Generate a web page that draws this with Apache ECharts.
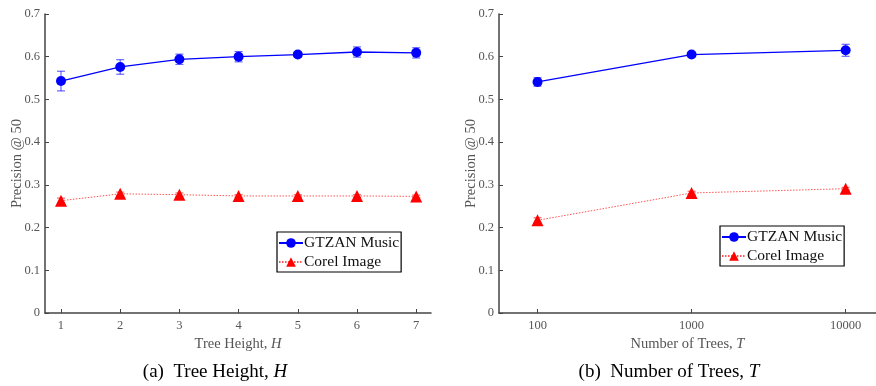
<!DOCTYPE html>
<html>
<head>
<meta charset="utf-8">
<script src="https://cdn.jsdelivr.net/npm/echarts@6/dist/echarts.min.js"></script>
<style>
  html, body { margin: 0; padding: 0; background: #fff; }
  #main { width: 876px; height: 386px; }
</style>
</head>
<body>
<div id="main"></div>
<script>
// panel (a): precision vs tree height
const heights = [1, 2, 3, 4, 5, 6, 7];
const gtzanByHeight = [0.543, 0.576, 0.594, 0.600, 0.605, 0.611, 0.609];
const gtzanByHeightErr = [0.023, 0.017, 0.012, 0.012, 0.006, 0.012, 0.012];
const corelByHeight = [0.263, 0.279, 0.277, 0.274, 0.274, 0.274, 0.273];
const corelByHeightErr = [0.006, 0.004, 0.004, 0.003, 0.003, 0.003, 0.003];

// panel (b): precision vs number of trees
const trees = [100, 1000, 10000];
const gtzanByTrees = [0.541, 0.605, 0.615];
const gtzanByTreesErr = [0.010, 0.005, 0.014];
const corelByTrees = [0.217, 0.281, 0.291];
const corelByTreesErr = [0.006, 0.004, 0.003];

const SERIF = '"Liberation Serif", "DejaVu Serif", serif';
const AXIS_COLOR = '#444';
const TEXT_COLOR = '#555';

const pairs = (xs, ys) => xs.map((x, i) => [x, ys[i]]);
const triples = (xs, ys, es) => xs.map((x, i) => [x, ys[i], es[i]]);

// vertical error bar with small caps
const errorBar = (color) => (params, api) => {
    const x = api.value(0), y = api.value(1), e = api.value(2);
    const top = api.coord([x, y + e]);
    const bot = api.coord([x, y - e]);
    const w = 4;
    const st = { stroke: color, lineWidth: 1.2 };
    return {
        type: 'group',
        children: [
            { type: 'line', shape: { x1: top[0], y1: top[1], x2: bot[0], y2: bot[1] }, style: st },
            { type: 'line', shape: { x1: top[0] - w, y1: top[1], x2: top[0] + w, y2: top[1] }, style: st },
            { type: 'line', shape: { x1: bot[0] - w, y1: bot[1], x2: bot[0] + w, y2: bot[1] }, style: st }
        ]
    };
};

const yAxisBase = (gridIndex) => ({
    type: 'value',
    gridIndex,
    min: 0,
    max: 0.7,
    interval: 0.1,
    name: 'Precision @ 50',
    nameLocation: 'middle',
    nameGap: 20,
    nameMoveOverlap: false,
    nameTextStyle: { fontFamily: SERIF, fontSize: 14.5, color: TEXT_COLOR },
    axisLine: { show: true, lineStyle: { color: AXIS_COLOR, width: 1.5 } },
    axisTick: { show: true, inside: true, length: 4, lineStyle: { color: AXIS_COLOR } },
    axisLabel: { fontFamily: SERIF, fontSize: 12.5, color: TEXT_COLOR, margin: 5 },
    splitLine: { show: false }
});

const xAxisCommon = {
    nameLocation: 'middle',
    nameGap: 20,
    axisLine: { show: true, onZero: false, lineStyle: { color: AXIS_COLOR, width: 1.5 } },
    splitLine: { show: false }
};

const nameStyle = {
    fontFamily: SERIF, fontSize: 14.5, color: TEXT_COLOR,
    rich: {
        n: { fontFamily: SERIF, fontSize: 14.5, color: TEXT_COLOR },
        i: { fontFamily: SERIF, fontSize: 14.5, color: TEXT_COLOR, fontStyle: 'italic' }
    }
};

const legendBase = {
    data: ['GTZAN Music', 'Corel Image'],
    orient: 'vertical',
    itemWidth: 24,
    itemHeight: 12,
    itemGap: 3,
    padding: [3, 2, 2, 1],
    borderColor: '#000',
    borderWidth: 1.2,
    backgroundColor: '#fff',
    selectedMode: false,
    textStyle: { fontFamily: SERIF, fontSize: 15.5, color: '#111', padding: [0, 0, 0, -4] }
};

const gtzanLine = (xi, data) => ({
    name: 'GTZAN Music',
    type: 'line',
    xAxisIndex: xi, yAxisIndex: xi,
    data,
    symbol: 'circle',
    symbolSize: 10,
    color: '#0000ff',
    lineStyle: { color: '#0000ff', width: 1.3 },
    itemStyle: { color: '#0000ff' },
    z: 5
});

const corelLine = (xi, data) => ({
    name: 'Corel Image',
    type: 'line',
    xAxisIndex: xi, yAxisIndex: xi,
    data,
    symbol: 'triangle',
    symbolSize: 12,
    color: '#ff0000',
    lineStyle: { color: '#ff5555', width: 1, type: [1.5, 1.5] },
    itemStyle: { color: '#ff0000' },
    z: 5
});

const bars = (xi, data, color) => ({
    type: 'custom',
    xAxisIndex: xi, yAxisIndex: xi,
    data,
    encode: { x: 0, y: 1 },
    renderItem: errorBar(color),
    silent: true,
    z: 4
});

const option = {
    backgroundColor: '#fff',
    animation: false,
    grid: [
        { left: 45, top: 14, width: 386, height: 299 },
        { left: 499, top: 14, width: 377, height: 299 }
    ],
    xAxis: [
        Object.assign({}, xAxisCommon, {
            type: 'value',
            gridIndex: 0,
            min: 0.73,
            max: 7.25,
            name: '{n|Tree Height, }{i|H}',
            nameTextStyle: nameStyle,
            axisTick: { show: true, inside: true, length: 4, customValues: heights, lineStyle: { color: AXIS_COLOR } },
            axisLabel: { customValues: heights, fontFamily: SERIF, fontSize: 12.5, color: TEXT_COLOR, margin: 6 }
        }),
        Object.assign({}, xAxisCommon, {
            type: 'log',
            logBase: 10,
            gridIndex: 1,
            min: 56.23,
            max: 15740,
            name: '{n|Number of Trees, }{i|T}',
            nameTextStyle: nameStyle,
            axisTick: { show: true, inside: true, length: 4, customValues: trees, lineStyle: { color: AXIS_COLOR } },
            axisLabel: {
                customValues: trees,
                formatter: (v) => String(v),
                fontFamily: SERIF, fontSize: 12.5, color: TEXT_COLOR, margin: 6
            }
        })
    ],
    yAxis: [yAxisBase(0), yAxisBase(1)],
    legend: [
        Object.assign({}, legendBase, { left: 277, top: 232 }),
        Object.assign({}, legendBase, { left: 720, top: 226 })
    ],
    graphic: [
        {
            type: 'text', x: 215, y: 372,
            style: {
                text: '{n|(a)  Tree Height, }{i|H}',
                align: 'center', verticalAlign: 'middle',
                rich: {
                    n: { fontFamily: SERIF, fontSize: 19, fill: '#000' },
                    i: { fontFamily: SERIF, fontSize: 19, fill: '#000', fontStyle: 'italic' }
                }
            }
        },
        {
            type: 'text', x: 669, y: 372,
            style: {
                text: '{n|(b)  Number of Trees, }{i|T}',
                align: 'center', verticalAlign: 'middle',
                rich: {
                    n: { fontFamily: SERIF, fontSize: 19, fill: '#000' },
                    i: { fontFamily: SERIF, fontSize: 19, fill: '#000', fontStyle: 'italic' }
                }
            }
        }
    ],
    series: [
        bars(0, triples(heights, gtzanByHeight, gtzanByHeightErr), 'rgba(0,0,255,0.6)'),
        bars(0, triples(heights, corelByHeight, corelByHeightErr), 'rgba(255,0,0,0.6)'),
        gtzanLine(0, pairs(heights, gtzanByHeight)),
        corelLine(0, pairs(heights, corelByHeight)),
        bars(1, triples(trees, gtzanByTrees, gtzanByTreesErr), 'rgba(0,0,255,0.6)'),
        bars(1, triples(trees, corelByTrees, corelByTreesErr), 'rgba(255,0,0,0.6)'),
        gtzanLine(1, pairs(trees, gtzanByTrees)),
        corelLine(1, pairs(trees, corelByTrees))
    ]
};

const chart = echarts.init(document.getElementById('main'));
chart.setOption(option);
</script>
</body>
</html>
